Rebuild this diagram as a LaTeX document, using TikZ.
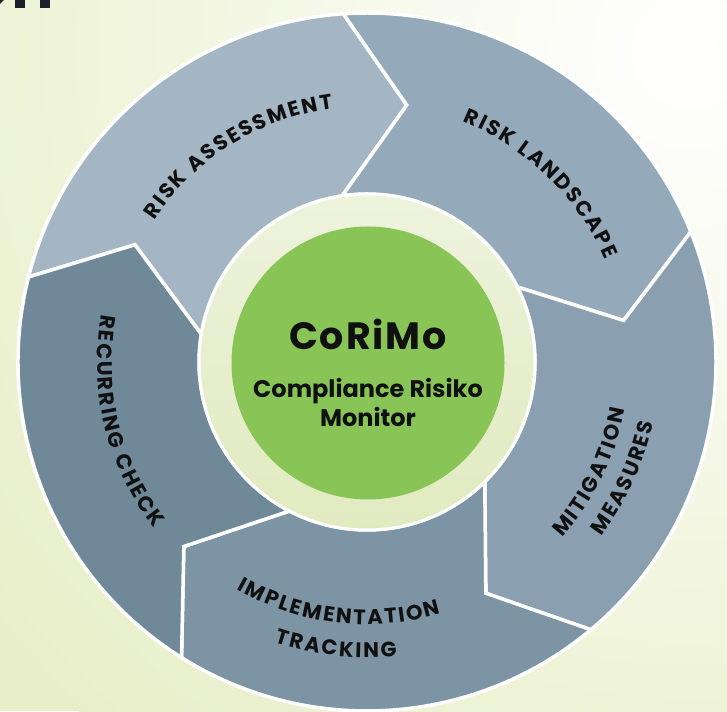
\documentclass[tikz,border=0pt]{standalone}
\usepackage{fontspec}
\setmainfont{Poppins}
\newfontfamily\titlefont[LetterSpace=5]{Poppins}
\usetikzlibrary{decorations.text,calc}
\definecolor{bgg}{HTML}{E8EFC8}
\definecolor{segA}{HTML}{A4B6C3}
\definecolor{segB}{HTML}{94AABA}
\definecolor{segC}{HTML}{8AA0B1}
\definecolor{segD}{HTML}{7C94A4}
\definecolor{segE}{HTML}{6F8999}
\definecolor{paletop}{HTML}{EEF3DD}
\definecolor{palebot}{HTML}{E1EABF}
\definecolor{greenc}{HTML}{88C556}
\definecolor{ink}{HTML}{101010}
\definecolor{headink}{HTML}{1C1F2A}
\newcommand\lblstyle{\bfseries\fontsize{21}{23}\selectfont}
\newcommand\tk{\kern2pt}
\tikzset{
  segpart/.style={draw=white, line width=3.5, line join=miter},
  arclabel/.style={decorate, decoration={text along path, text align=center, text color=ink}},
  centertext/.style={text=ink, anchor=base, inner sep=0pt},
}
\begin{document}
\begin{tikzpicture}[x=1pt,y=1pt]
\useasboundingbox (0,0) rectangle (727,711);
\clip (0,0) rectangle (727,711);
% background
\fill[bgg] (0,0) rectangle (727,711);
\shade[inner color=white, outer color=bgg] (690,660) circle (900);
% heading fragment
\fill[headink] (15,703) rectangle (25,711);
\fill[headink] (40,703) rectangle (50,711);
\fill[headink] (0,711) -- (4,711) -- (0,707) -- cycle;
\coordinate (O) at (367,349);
\coordinate (G) at (368,348);
% ring segments
\foreach \a/\col in {165.9/segA, 93.9/segB, 21.9/segC, -50.1/segD, -122.1/segE} {
  \pgfmathsetmacro\b{\a-72}
  \pgfmathsetmacro\btip{\b-12.7}
  \pgfmathsetmacro\bin{\b+4.6}
  \pgfmathsetmacro\ain{\a+4.6}
  \pgfmathsetmacro\atip{\a-12.7}
  \filldraw[segpart, fill=\col]
    ($(O)+(\a:349)$) arc[start angle=\a, end angle=\b, radius=349]
    -- ($(O)+(\btip:260)$) -- ($(O)+(\bin:168)$)
    arc[start angle=\bin, end angle=\ain, radius=168]
    -- ($(O)+(\atip:260)$) -- cycle;
}
% inner pale annulus and green disc
\shade[top color=paletop, bottom color=palebot] (O) circle (168);
\draw[white, line width=3] (O) circle (168);
\fill[greenc] (G) circle (136.5);
% centre texts
\node[centertext, font=\titlefont\bfseries\fontsize{38}{38}\selectfont] (title) at (368,361) {CoRiMo};
\node[centertext, font=\bfseries\fontsize{24}{24}\selectfont] (sub1) at (368,313) {Compliance Risiko};
\node[centertext, font=\bfseries\fontsize{24}{24}\selectfont] (sub2) at (368,284) {Monitor};
% curved labels
\path[arclabel, decoration={text={|\lblstyle|R{\tk}I{\tk}S{\tk}K{\tk} {\tk}A{\tk}S{\tk}S{\tk}E{\tk}S{\tk}S{\tk}M{\tk}E{\tk}N{\tk}T}}]
  ($(O)+(182:255.7)$) arc[start angle=182, end angle=62, radius=255.7];
\path[arclabel, decoration={text={|\lblstyle|R{\tk}I{\tk}S{\tk}K{\tk} {\tk}L{\tk}A{\tk}N{\tk}D{\tk}S{\tk}C{\tk}A{\tk}P{\tk}E}}]
  ($(O)+(105.8:258.7)$) arc[start angle=105.8, end angle=-14.2, radius=258.7];
\path[arclabel, decoration={text={|\lblstyle|M{\tk}I{\tk}T{\tk}I{\tk}G{\tk}A{\tk}T{\tk}I{\tk}O{\tk}N}}]
  ($(O)+(-86.2:262.3)$) arc[start angle=-86.2, end angle=33.8, radius=262.3];
\path[arclabel, decoration={text={|\lblstyle|M{\tk}E{\tk}A{\tk}S{\tk}U{\tk}R{\tk}E{\tk}S}}]
  ($(O)+(-84.3:292.3)$) arc[start angle=-84.3, end angle=35.7, radius=292.3];
\path[arclabel, decoration={text={|\lblstyle|I{\tk}M{\tk}P{\tk}L{\tk}E{\tk}M{\tk}E{\tk}N{\tk}T{\tk}A{\tk}T{\tk}I{\tk}O{\tk}N}}]
  ($(O)+(-156.7:262.3)$) arc[start angle=-156.7, end angle=-36.7, radius=262.3];
\path[arclabel, decoration={text={|\lblstyle|T{\tk}R{\tk}A{\tk}C{\tk}K{\tk}I{\tk}N{\tk}G}}]
  ($(O)+(-156.2:295.3)$) arc[start angle=-156.2, end angle=-36.2, radius=295.3];
\path[arclabel, decoration={text={|\lblstyle|R{\tk}E{\tk}C{\tk}U{\tk}R{\tk}R{\tk}I{\tk}N{\tk}G{\tk} {\tk}C{\tk}H{\tk}E{\tk}C{\tk}K}}]
  ($(O)+(133.9:269.8)$) arc[start angle=133.9, end angle=253.9, radius=269.8];
\end{tikzpicture}
\end{document}
